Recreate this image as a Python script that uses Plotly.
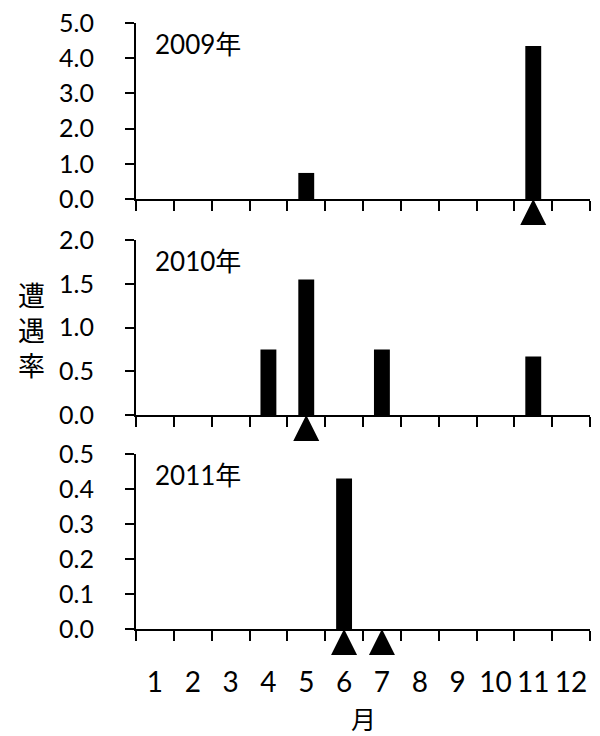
import plotly.graph_objects as go

months = [str(m) for m in range(1, 13)]
rate_2009 = [0, 0, 0, 0, 0.74, 0, 0, 0, 0, 0, 4.35, 0]
rate_2010 = [0, 0, 0, 0.75, 1.55, 0, 0.75, 0, 0, 0, 0.67, 0]
rate_2011 = [0, 0, 0, 0, 0, 0.43, 0, 0, 0, 0, 0, 0]
marks_2009 = ["11"]
marks_2010 = ["5"]
marks_2011 = ["6", "7"]
years = ["2009年", "2010年", "2011年"]
y_ranges = [[0, 5], [0, 2], [0, 0.5]]
y_dticks = [1, 0.5, 0.1]
y_title = "遭遇率"
x_title = "月"

FONT = "Lato, 'Noto Sans CJK JP', sans-serif"
domains = [[0.7096, 1.0], [0.3531, 0.6419], [0.0, 0.2888]]
rates = [rate_2009, rate_2010, rate_2011]
marks = [marks_2009, marks_2010, marks_2011]

fig = go.Figure()
for i in range(3):
    sfx = "" if i == 0 else str(i + 1)
    fig.add_trace(go.Bar(x=months, y=rates[i], marker=dict(color="black", line=dict(width=0)),
                         xaxis="x" + sfx, yaxis="y" + sfx, showlegend=False))
    fig.add_trace(go.Scatter(x=marks[i], y=[0] * len(marks[i]), mode="markers",
                             marker=dict(symbol="arrow-up", size=26, color="black", line=dict(width=0)),
                             cliponaxis=False, xaxis="x" + sfx, yaxis="y" + sfx, showlegend=False))
    xa = dict(domain=[0, 1], anchor="y" + sfx, type="category", categoryorder="array",
              categoryarray=months, range=[-0.5, 11.5], tickson="boundaries",
              ticks="outside", ticklen=10, tickwidth=2, tickcolor="black", tickangle=0,
              showline=True, linecolor="black", linewidth=2, showgrid=False, zeroline=False,
              showticklabels=(i == 2), tickfont=dict(family=FONT, size=28, color="black"),
              ticklabelstandoff=27, automargin=False)
    ya = dict(domain=domains[i], anchor="x" + sfx, range=y_ranges[i], dtick=y_dticks[i],
              tick0=0, tickformat=".1f", ticks="outside", ticklen=9, tickwidth=2, tickcolor="black",
              showline=True, linecolor="black", linewidth=2, showgrid=False, zeroline=False,
              tickfont=dict(family=FONT, size=25, color="black"), ticklabelstandoff=26,
              automargin=False)
    fig.layout["xaxis" + sfx] = xa
    fig.layout["yaxis" + sfx] = ya
    fig.add_annotation(text=years[i], xref="x" + sfx + " domain", yref="y" + sfx + " domain",
                       x=0.038, y=1 - 21 / 176, xanchor="left", yanchor="middle", showarrow=False,
                       font=dict(family=FONT, size=26, color="black"))

fig.add_annotation(text="<br>".join(list(y_title)), xref="paper", yref="paper",
                   x=(31 - 136) / 454, y=(629 - 331) / 606, xanchor="center", yanchor="middle",
                   showarrow=False, font=dict(family=FONT, size=27, color="black"))
fig.add_annotation(text=x_title, xref="paper", yref="paper", x=0.5, y=(629 - 719) / 606,
                   xanchor="center", yanchor="middle", showarrow=False,
                   font=dict(family=FONT, size=25, color="black"))

fig.update_layout(width=600, height=736, margin=dict(l=136, r=10, t=23, b=107, autoexpand=False),
                  plot_bgcolor="white", paper_bgcolor="white", bargap=0.58,
                  font=dict(family=FONT, color="black"))
fig.write_html("out.html", config={"displayModeBar": False},
               post_script="document.body.style.margin='0';document.body.style.overflow='hidden';")
